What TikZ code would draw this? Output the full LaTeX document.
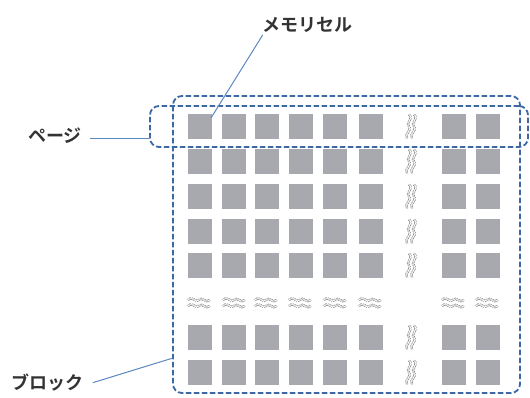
\documentclass[tikz,border=0pt]{standalone}
\usepackage{fontspec}
\newfontfamily\jp[BoldFont={Noto Sans CJK JP Bold}]{Noto Sans CJK JP}
\definecolor{cellgray}{HTML}{A7A9AE}
\definecolor{dashblue}{HTML}{3C68A6}
\definecolor{leadblue}{HTML}{5E88C4}
\definecolor{labgray}{HTML}{333333}
\definecolor{wavegray}{HTML}{6E6E6E}
\begin{document}
\begin{tikzpicture}[x=1pt,y=-1pt,
  cell/.style={fill=cellgray,draw=none,minimum width=24pt,minimum height=25pt,inner sep=0pt},
  dbox/.style={draw=dashblue,line width=1.8pt,dash pattern=on 5.5pt off 2.5pt,rounded corners=9pt,fill=none,inner sep=0pt},
  leader/.style={draw=leadblue,line width=1pt},
  lab/.style={font=\jp\bfseries\fontsize{18pt}{20pt}\selectfont,text=labgray,inner sep=2pt},
  wave/.style={draw=wavegray,line width=0.6pt,double=white,double distance=1.1pt,dash pattern=on 1.2pt off 0.8pt},
  vwave/.pic={
    \draw[wave] (-1,-12) .. controls (4,-7) and (-5,-3) .. (-1,0) .. controls (3,3) and (-6,7) .. (-3,12);
    \draw[wave] (4,-12) .. controls (9,-7) and (0,-3) .. (4,0) .. controls (8,3) and (-1,7) .. (2,12);
  },
  hwave/.pic={
    \draw[wave] (-11,-3) .. controls (-6,-8) and (-3,1) .. (0,-3) .. controls (3,-7) and (7,1) .. (11,-3);
    \draw[wave] (-11,3) .. controls (-6,-2) and (-3,7) .. (0,3) .. controls (3,-1) and (7,7) .. (11,3);
  }
]
\useasboundingbox (0,0) rectangle (530,397);
% cells
\foreach \r/\y in {1/114,2/149,3/184,4/219,5/253,7/325,8/360}{
  \foreach \c/\x in {1/188,2/222,3/255,4/289,5/323,6/359,8/442,9/476}{
    \node[cell] (c-\r-\c) at (\x+12,\y+12.5) {};
  }
  \pic at (410,\y+12.5) {vwave};
}
% horizontal waves row 6
\foreach \x in {199,234,266,300,335,370,453,487}{
  \pic at (\x,303) {hwave};
}
% boxes
\node[dbox,minimum width=347pt,minimum height=297pt] (block) at (346.5,244.5) {};
\node[dbox,minimum width=378pt,minimum height=41pt] (page) at (339,126.5) {};
% labels
\node[lab] (memlab) at (307,25) {メモリセル};
\node[lab] (pagelab) at (55,136) {ページ};
\node[lab] (blocklab) at (47,383) {ブロック};
\coordinate (blk) at (173,358);
\coordinate (cellpt) at (211,118);
% leaders
\draw[leader] ([xshift=3pt]memlab.south west) -- (cellpt);
\draw[leader,shorten <=6pt] ([yshift=-2pt]pagelab.east) -- ([yshift=-2pt]pagelab.east -| page.west);
\draw[leader,shorten <=8pt] ([yshift=-2pt]blocklab.east) -- (blk);
\end{tikzpicture}
\end{document}
